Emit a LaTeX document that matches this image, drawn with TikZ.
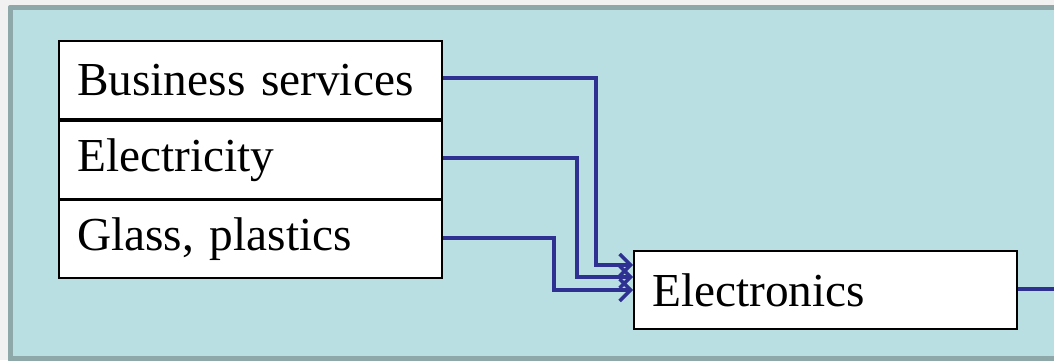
\documentclass[tikz,border=0pt]{standalone}
\usepackage{fontspec}
\setmainfont{Liberation Serif}
\usetikzlibrary{arrows.meta}
\definecolor{pagebg}{HTML}{F1F1F1}
\definecolor{panelfill}{HTML}{B9DFE2}
\definecolor{panelrim}{HTML}{8EA8A9}
\definecolor{flow}{HTML}{2E3192}
\tikzset{
  sector/.style={draw=black, line width=2.4pt, fill=white, minimum width=383pt,
    minimum height=78pt, inner sep=0pt, anchor=north west,
    font=\fontsize{47.3}{50}\selectfont, text width=347pt, align=left},
  link/.style={draw=flow, line width=3.8pt, line join=miter,
    -{Straight Barb[length=11pt, width=22pt, line width=3.4pt]}},
}
\begin{document}
\begin{tikzpicture}[x=1pt, y=-1pt]
  \useasboundingbox (0,0) rectangle (1054,360);
  \fill[pagebg] (0,0) rectangle (1054,360);
  % panel with its rim
  \fill[panelrim, rounded corners=2pt] (8,5) rectangle (1070,362);
  \fill[panelfill] (13,10) rectangle (1070,356);
  % input sectors
  \node[sector] (bus) at (58,40) {Business services};
  \node[sector] (ele) at (58,120) {Electricity};
  \node[sector] (gla) at (58,199) {Glass, plastics};
  % output sector
  \node[sector] (elx) at (633,250) {Electronics};
  \coordinate (out) at (1060,289);
  % connectors
  \draw[link] (bus.east |- 0,78) -| (596,265) -- (elx.west |- 0,265);
  \draw[link] (ele.east |- 0,158) -| (577,277) -- (elx.west |- 0,277);
  \draw[link] (gla.east |- 0,238) -| (554,290) -- (elx.west |- 0,290);
  \draw[draw=flow, line width=3.8pt] (elx.east |- 0,289) -- (out);
\end{tikzpicture}
\end{document}
